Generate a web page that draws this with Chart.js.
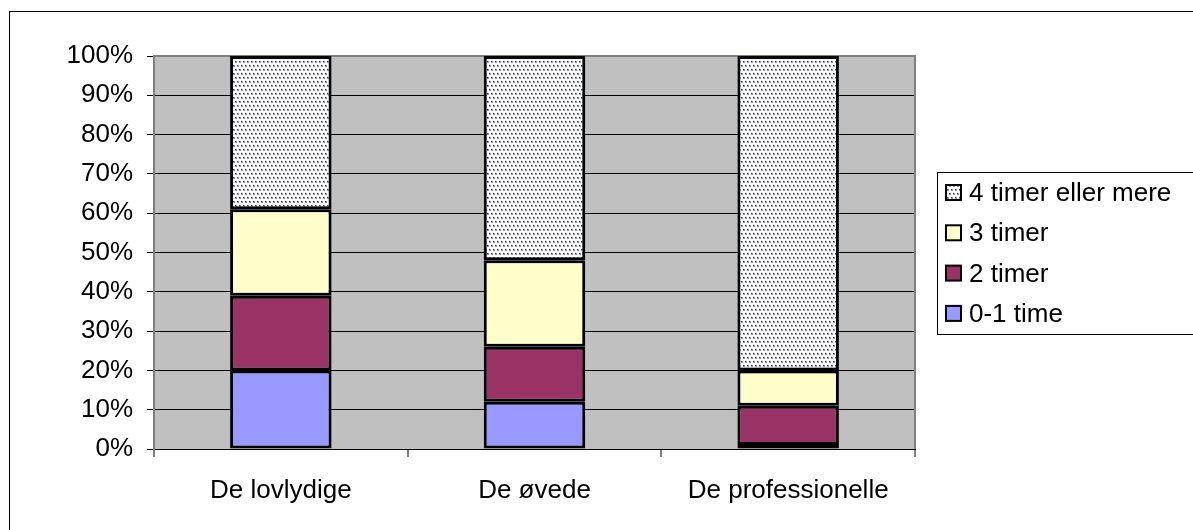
<!DOCTYPE html>
<html lang="da">
<head>
  <meta charset="UTF-8" />
  <title>Timer fordelt på grupper</title>
  <script src="https://cdn.jsdelivr.net/npm/chart.js"></script>
  <style>
    body { margin: 0; background: #fff; }
    #wrap { width: 1193px; height: 530px; }
  </style>
</head>
<body>
  <div id="wrap"><canvas id="chart" width="1193" height="530"></canvas></div>

  <script>
    const categories = ['De lovlydige', 'De øvede', 'De professionelle'];
    const tid01 = [20, 12, 1];
    const tid2 = [19, 14, 10];
    const tid3 = [22, 22, 9];
    const tid4 = [39, 52, 80];
    const seriesNames = ['0-1 time', '2 timer', '3 timer', '4 timer eller mere'];

    const FONT = "'Liberation Sans', Arial, sans-serif";

    // prikket mønster til "4 timer eller mere"
    function dotPattern() {
      const c = document.createElement('canvas');
      c.width = 4; c.height = 8;
      const g = c.getContext('2d');
      g.fillStyle = '#ffffff';
      g.fillRect(0, 0, 4, 8);
      [[1, 1], [3, 5]].forEach(([x, y]) => {
        g.fillStyle = '#8a8ad4';
        g.fillRect(x, y, 2, 2);
        g.fillRect(x - 4, y, 2, 2);
        g.fillStyle = '#2e2ea0';
        g.fillRect(x, y, 1, 1);
        g.fillRect(x - 4, y, 1, 1);
      });
      return g.createPattern(c, 'repeat');
    }
    const dots = dotPattern();

    const plotBg = {
      id: 'plotBg',
      beforeDraw(chart) {
        const { ctx, chartArea: a } = chart;
        ctx.save();
        ctx.fillStyle = '#fff';
        ctx.fillRect(0, 0, chart.width, chart.height);
        // ydre ramme (beskåret til højre og forneden)
        ctx.strokeStyle = '#000';
        ctx.lineWidth = 1;
        ctx.strokeRect(9.5, 11.5, 1300, 600);
        ctx.fillStyle = '#c0c0c0';
        ctx.fillRect(a.left, a.top, a.right - a.left, a.bottom - a.top);
        ctx.restore();
      },
      beforeDatasetsDraw(chart) {
        const { ctx, chartArea: a } = chart;
        ctx.save();
        ctx.strokeStyle = '#808080';
        ctx.lineWidth = 2;
        ctx.beginPath();
        ctx.moveTo(a.left, a.top);
        ctx.lineTo(a.right, a.top);
        ctx.lineTo(a.right, a.bottom);
        ctx.stroke();
        ctx.restore();
      }
    };

    const boxLegend = {
      id: 'boxLegend',
      afterDraw(chart) {
        const { ctx } = chart;
        const x0 = 937.5, y0 = 172.5, h = 162;
        ctx.save();
        ctx.strokeStyle = '#000';
        ctx.lineWidth = 1;
        ctx.strokeRect(x0, y0, 300, h);
        ctx.font = '26px ' + FONT;
        ctx.textBaseline = 'middle';
        const ds = chart.data.datasets.slice().reverse();
        ds.forEach((d, i) => {
          const cy = 193 + i * 40.3;
          ctx.fillStyle = d.backgroundColor;
          ctx.fillRect(946, cy - 8, 15, 15);
          ctx.strokeStyle = '#000';
          ctx.lineWidth = 2;
          ctx.strokeRect(946, cy - 8, 15, 15);
          ctx.fillStyle = '#000';
          ctx.fillText(d.label, 969, cy + 1);
        });
        ctx.restore();
      }
    };

    function bar(label, data, color) {
      return {
        label, data,
        backgroundColor: color,
        borderColor: '#000',
        borderWidth: 3,
        borderSkipped: false,
        categoryPercentage: 1,
        barPercentage: 0.4
      };
    }

    new Chart(document.getElementById('chart'), {
      type: 'bar',
      data: {
        labels: categories,
        datasets: [
          bar(seriesNames[0], tid01, '#9999ff'),
          bar(seriesNames[1], tid2, '#993366'),
          bar(seriesNames[2], tid3, '#ffffcc'),
          bar(seriesNames[3], tid4, dots)
        ]
      },
      options: {
        responsive: false,
        animation: false,
        layout: { padding: { left: 20, top: 56, right: 278, bottom: 0 } },
        plugins: {
          legend: { display: false },
          tooltip: { enabled: false }
        },
        scales: {
          x: {
            stacked: true,
            afterFit(s) { s.height = 81; },
            grid: {
              offset: true,
              drawOnChartArea: false,
              color: '#808080',
              lineWidth: 2,
              tickLength: 8
            },
            border: { color: '#000', width: 1 },
            ticks: {
              color: '#000',
              padding: 18,
              font: { family: FONT, size: 26 }
            }
          },
          y: {
            stacked: true,
            min: 0,
            max: 100,
            afterFit(s) { s.width = 134; },
            grid: {
              color: '#000',
              lineWidth: 1,
              tickLength: 7,
              tickColor: '#000'
            },
            border: { color: '#808080', width: 2 },
            ticks: {
              stepSize: 10,
              color: '#000',
              padding: 14,
              font: { family: FONT, size: 26 },
              callback: v => v + '%'
            }
          }
        }
      },
      plugins: [plotBg, boxLegend]
    });
  </script>
</body>
</html>
